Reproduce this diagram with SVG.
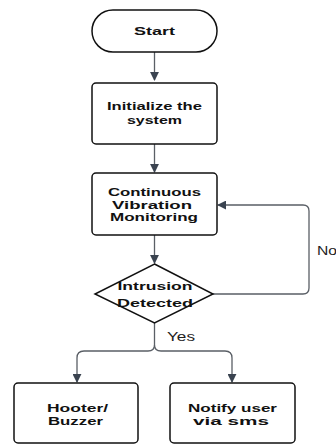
<svg xmlns="http://www.w3.org/2000/svg" width="336" height="445" viewBox="0 0 336 445">
  <style>
    .shape { fill: #ffffff; stroke: #111111; stroke-width: 1.5; }
    .lbl { font-family: "Liberation Sans", Arial, sans-serif; font-weight: bold; font-size: 11.5px; fill: #111111; text-anchor: middle; }
    .note { font-family: "Liberation Sans", Arial, sans-serif; font-size: 12px; fill: #222222; }
    .wire { fill: none; stroke: #5a5f66; stroke-width: 1.3; }
  </style>
  <defs>
    <marker id="arrow" viewBox="0 0 10 10" refX="9" refY="5" markerWidth="9" markerHeight="9" markerUnits="userSpaceOnUse" orient="auto">
      <path d="M0,0 L10,5 L0,10 Z" fill="#3a4350"/>
    </marker>
  </defs>
  <rect width="336" height="445" fill="#ffffff"/>

  <g id="connectors">
    <line class="wire" x1="154.5" y1="52" x2="154.5" y2="80" marker-end="url(#arrow)"/>
    <line class="wire" x1="154.5" y1="144" x2="154.5" y2="172" marker-end="url(#arrow)"/>
    <line class="wire" x1="154.5" y1="235" x2="154.5" y2="263" marker-end="url(#arrow)"/>
    <path class="wire" d="M213,294 H303 Q309,294 309,288 V211 Q309,205 303,205 H218" marker-end="url(#arrow)"/>
    <path class="wire" d="M154.5,323 V345 Q154.5,351 148,351 H84 Q77,351 77,358 V382" marker-end="url(#arrow)"/>
    <path class="wire" d="M154.5,345 Q154.5,351 161,351 H225 Q232,351 232,358 V382" marker-end="url(#arrow)"/>
    <text class="note" x="317" y="255" textLength="20" lengthAdjust="spacingAndGlyphs">No</text>
    <text class="note" x="167" y="341" textLength="28" lengthAdjust="spacingAndGlyphs">Yes</text>
  </g>

  <g id="start">
    <rect class="shape" x="92" y="10" width="125" height="42" rx="21" ry="21"/>
    <text class="lbl" x="154.5" y="35" textLength="41" lengthAdjust="spacingAndGlyphs">Start</text>
  </g>

  <g id="init">
    <rect class="shape" x="92" y="83" width="125" height="61" rx="4"/>
    <text class="lbl" x="154.5" y="110" textLength="95" lengthAdjust="spacingAndGlyphs">Initialize the</text>
    <text class="lbl" x="154.5" y="124" textLength="55" lengthAdjust="spacingAndGlyphs">system</text>
  </g>

  <g id="monitor">
    <rect class="shape" x="92" y="173" width="125" height="62" rx="4"/>
    <text class="lbl" x="154.5" y="196" textLength="93" lengthAdjust="spacingAndGlyphs">Continuous</text>
    <text class="lbl" x="152" y="208.5" textLength="80" lengthAdjust="spacingAndGlyphs">Vibration</text>
    <text class="lbl" x="154" y="221" textLength="88" lengthAdjust="spacingAndGlyphs">Monitoring</text>
  </g>

  <g id="decision">
    <polygon class="shape" points="154.5,264 213,294 154.5,323 95,294"/>
    <text class="lbl" x="155" y="290" textLength="75" lengthAdjust="spacingAndGlyphs">Intrusion</text>
    <text class="lbl" x="155" y="307" textLength="76" lengthAdjust="spacingAndGlyphs">Detected</text>
  </g>

  <g id="hooter">
    <rect class="shape" x="14" y="383" width="124" height="60" rx="4"/>
    <text class="lbl" x="77.5" y="412" textLength="61" lengthAdjust="spacingAndGlyphs">Hooter/</text>
    <text class="lbl" x="75.5" y="425" textLength="55" lengthAdjust="spacingAndGlyphs">Buzzer</text>
  </g>

  <g id="notify">
    <rect class="shape" x="170" y="383" width="125" height="60" rx="4"/>
    <text class="lbl" x="232.5" y="412" textLength="89" lengthAdjust="spacingAndGlyphs">Notify user</text>
    <text class="lbl" x="231" y="425" textLength="76" lengthAdjust="spacingAndGlyphs">via sms</text>
  </g>
</svg>
